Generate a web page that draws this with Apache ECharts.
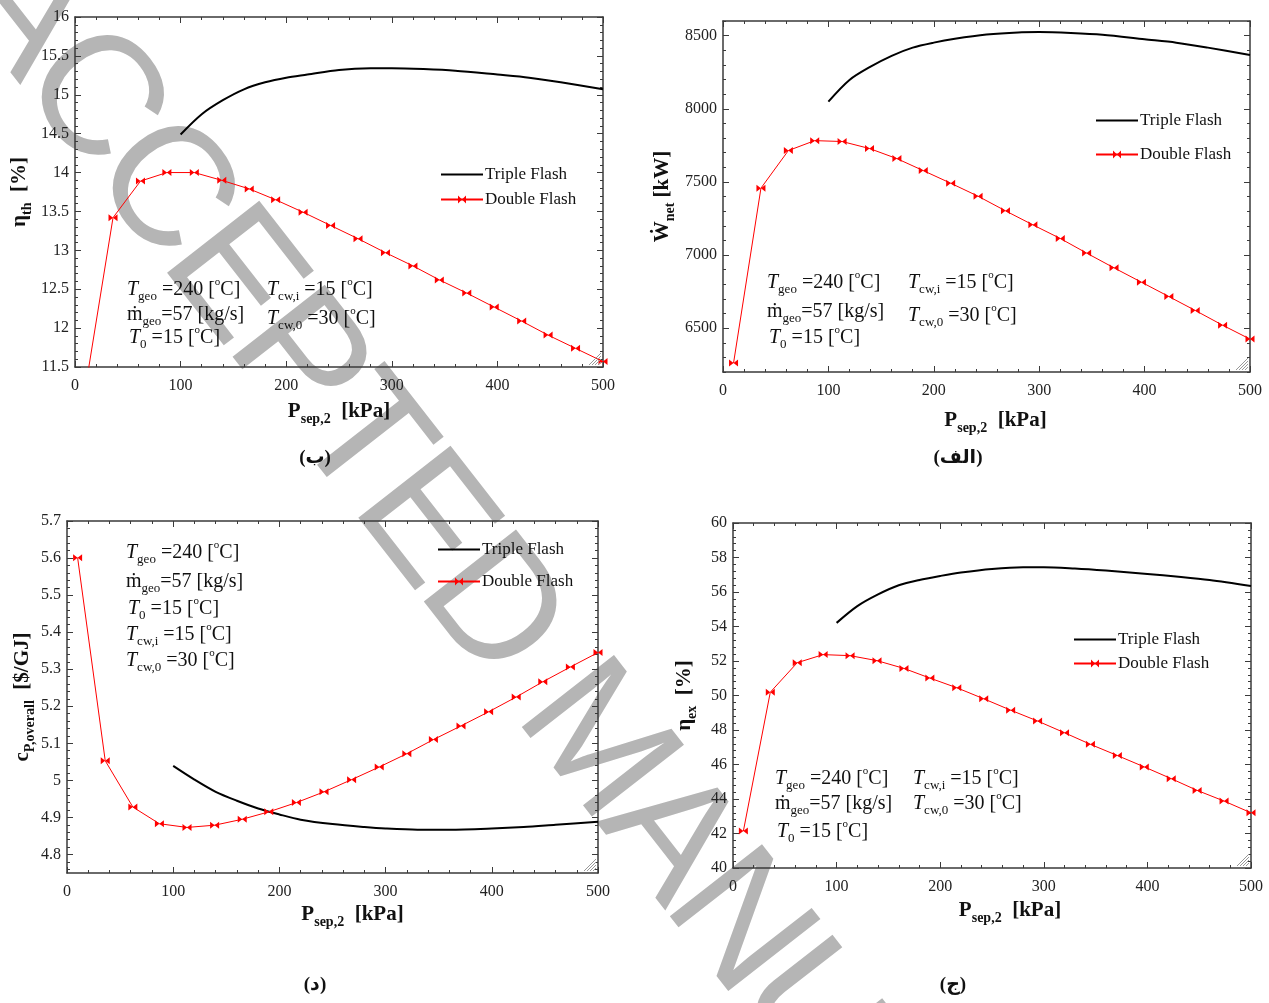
<!DOCTYPE html>
<html><head><meta charset="utf-8">
<script src="https://cdn.jsdelivr.net/npm/echarts@6/dist/echarts.min.js"></script>
<style>html,body{margin:0;padding:0;background:#fff}#c{width:1269px;height:1003px}</style>
</head><body><div id="c"></div>
<script>
// ---------- data ----------
const xTicks = [0, 100, 200, 300, 400, 500];
const yTicksEtaTh = [11.5, 12, 12.5, 13, 13.5, 14, 14.5, 15, 15.5, 16];
const yTicksWnet = [6500, 7000, 7500, 8000, 8500];
const yTicksCost = [4.8, 4.9, 5, 5.1, 5.2, 5.3, 5.4, 5.5, 5.6, 5.7];
const yTicksEtaEx = [40, 42, 44, 46, 48, 50, 52, 54, 56, 58, 60];

const pDouble = [10, 36, 62, 87, 113, 139, 165, 190, 216, 242, 268, 294, 320, 345, 371, 397, 423, 448, 474, 500];
const pTriple = [100, 120, 140, 160, 180, 200, 220, 250, 280, 300, 330, 360, 400, 430, 460, 500];

const etaThDouble = [11.24, 13.42, 13.89, 14.00, 14.00, 13.90, 13.79, 13.65, 13.49, 13.32, 13.15, 12.97, 12.80, 12.62, 12.45, 12.27, 12.09, 11.91, 11.74, 11.57];
const etaThTriple = [14.49, 14.75, 14.93, 15.07, 15.16, 15.22, 15.26, 15.32, 15.34, 15.34, 15.33, 15.31, 15.26, 15.22, 15.16, 15.07];

const wNetDouble = [6261, 7457, 7714, 7782, 7776, 7728, 7659, 7577, 7491, 7402, 7302, 7206, 7113, 7013, 6912, 6814, 6716, 6621, 6520, 6425];
const wNetTriple = [8049, 8197, 8288, 8362, 8418, 8452, 8478, 8507, 8522, 8524, 8518, 8506, 8475, 8452, 8418, 8368];

const costDouble = [5.601, 5.053, 4.928, 4.883, 4.873, 4.879, 4.895, 4.915, 4.940, 4.969, 5.002, 5.036, 5.072, 5.110, 5.147, 5.185, 5.225, 5.266, 5.306, 5.345];
const costTriple = [5.039, 5.002, 4.969, 4.945, 4.924, 4.908, 4.894, 4.882, 4.874, 4.870, 4.867, 4.867, 4.870, 4.874, 4.880, 4.888];

const etaExDouble = [42.14, 50.19, 51.90, 52.37, 52.31, 52.02, 51.57, 51.01, 50.45, 49.81, 49.15, 48.52, 47.84, 47.17, 46.52, 45.86, 45.18, 44.50, 43.88, 43.2];
const etaExTriple = [54.21, 55.18, 55.86, 56.39, 56.70, 56.93, 57.13, 57.34, 57.44, 57.44, 57.36, 57.24, 57.05, 56.89, 56.70, 56.35];

const seriesNames = ['Triple Flash', 'Double Flash'];
const captions = ['(ب)', '(الف)', '(د)', '(ج)'];

// ---------- styling / layout ----------
const SERIF = "'Liberation Serif','Times New Roman','DejaVu Serif',serif";
const FRAME = { color: '#3a3a3a', width: 1.5 };
const BOWTIE = 'path://M0,0L5,3L0,6ZM10,0L5,3L10,6Z';

function minorTicks(min, max, step) {
  const out = [];
  const start = Math.ceil(min / step - 1e-9);
  for (let k = start; k * step <= max + 1e-9; k++) out.push(Math.round(k * step * 1e6) / 1e6);
  return out;
}

const NAME_RICH = {
  b: { fontFamily: SERIF, fontWeight: 'bold', fontSize: 21, lineHeight: 28, verticalAlign: 'middle', color: '#111' },
  bs: { fontFamily: SERIF, fontWeight: 'bold', fontSize: 14, lineHeight: 15, verticalAlign: 'bottom', color: '#111' }
};

const panels = [
  { grid: { left: 75, top: 17, width: 528, height: 350 }, yMin: 11.5, yMax: 16, yMajor: yTicksEtaTh, yStep: 0.1,
    yName: '{b|η}{bs|th}{b|  [%]}', yGap: 41, xGap: 31, xPad: [0, 0, 0, 0],
    dbl: etaThDouble, tri: etaThTriple, leg: { left: 440, top: 166, gap: 8 } },
  { grid: { left: 723, top: 21, width: 527, height: 351 }, yMin: 6200, yMax: 8600, yMajor: yTicksWnet, yStep: 100,
    yName: '{b|Ẇ}{bs|net}{b| [kW]}', yGap: 46, xGap: 35, xPad: [0, 0, 0, 18],
    dbl: wNetDouble, tri: wNetTriple, leg: { left: 1095, top: 112, gap: 17 } },
  { grid: { left: 67, top: 521, width: 531, height: 352 }, yMin: 4.75, yMax: 5.7, yMajor: yTicksCost, yStep: 0.02,
    yName: '{b|c}{bs|P,overall}{b|  [$/GJ]}', yGap: 30, xGap: 28, xPad: [0, 0, 0, 40],
    dbl: costDouble, tri: costTriple, leg: { left: 437, top: 541, gap: 15 } },
  { grid: { left: 733, top: 523, width: 518, height: 345 }, yMin: 40, yMax: 60, yMajor: yTicksEtaEx, yStep: 0.4,
    yName: '{b|η}{bs|ex}{b|  [%]}', yGap: 34, xGap: 29, xPad: [0, 0, 0, 36],
    dbl: etaExDouble, tri: etaExTriple, leg: { left: 1073, top: 631, gap: 7 } }
];

function axisSet(kind, gi, min, max, major, minor, nameCfg) {
  const sides = kind === 'x' ? ['bottom', 'top'] : ['left', 'right'];
  const out = [];
  sides.forEach((pos, si) => {
    const base = { type: 'value', gridIndex: gi, position: pos, min: min, max: max,
      splitLine: { show: false }, splitArea: { show: false }, silent: true };
    const majorAx = Object.assign({}, base, {
      axisLine: { show: true, onZero: false, lineStyle: FRAME },
      axisTick: { show: true, inside: true, length: 6, customValues: major, lineStyle: { color: '#3a3a3a', width: 1 } },
      axisLabel: si === 0 ? {
        show: true, customValues: major, formatter: v => String(v),
        fontFamily: SERIF, fontSize: 16, color: '#222', margin: kind === 'x' ? 11 : 6
      } : { show: false }
    });
    if (si === 0 && nameCfg) Object.assign(majorAx, nameCfg);
    out.push(majorAx);
    out.push(Object.assign({}, base, {
      axisLine: { show: false, onZero: false },
      axisTick: { show: true, inside: true, length: 3, customValues: minor, lineStyle: { color: '#3a3a3a', width: 1 } },
      axisLabel: { show: false }
    }));
  });
  return out;
}

const grids = [], xAxes = [], yAxes = [], series = [], legends = [];
const pair = (xs, ys) => xs.map((x, i) => [x, ys[i]]);

panels.forEach((p, gi) => {
  grids.push(Object.assign({ containLabel: false }, p.grid));
  xAxes.push(...axisSet('x', gi, 0, 500, xTicks, minorTicks(0, 500, 20), {
    name: '{b|P}{bs|sep,2}{b|  [kPa]}', nameLocation: 'middle', nameGap: p.xGap,
    nameTextStyle: { fontFamily: SERIF, fontWeight: 'bold', fontSize: 21, color: '#111', rich: NAME_RICH, padding: p.xPad }
  }));
  yAxes.push(...axisSet('y', gi, p.yMin, p.yMax, p.yMajor, minorTicks(p.yMin, p.yMax, p.yStep), {
    name: p.yName, nameLocation: 'middle', nameGap: p.yGap,
    nameTextStyle: { fontFamily: SERIF, fontWeight: 'bold', fontSize: 21, color: '#111', rich: NAME_RICH }
  }));
  series.push({
    name: seriesNames[0], type: 'line', xAxisIndex: gi * 4, yAxisIndex: gi * 4,
    data: pair(pTriple, p.tri), symbol: 'none', smooth: 0.3, clip: true,
    lineStyle: { color: '#000', width: 2 }, itemStyle: { color: 'rgba(0,0,0,0)' }, z: 3
  });
  series.push({
    name: seriesNames[1], type: 'line', xAxisIndex: gi * 4, yAxisIndex: gi * 4,
    data: pair(pDouble, p.dbl), symbol: BOWTIE, symbolSize: [9, 7], showSymbol: true, clip: true,
    lineStyle: { color: '#ff0000', width: 1 }, itemStyle: { color: '#ff0000' }, z: 4
  });
  legends.push({
    orient: 'vertical', left: p.leg.left, top: p.leg.top, itemGap: p.leg.gap, padding: 0,
    itemWidth: 42, itemHeight: 10, selectedMode: false,
    data: [{ name: seriesNames[0], itemStyle: { opacity: 0 } }, { name: seriesNames[1] }],
    textStyle: { fontFamily: SERIF, fontSize: 17, color: '#111', padding: [0, 0, 0, -3] }
  });
});

// ---------- text annotations ----------
const ANN_RICH = {
  it: { fontFamily: SERIF, fontStyle: 'italic', fontSize: 20, lineHeight: 26, verticalAlign: 'middle', color: '#111' },
  n: { fontFamily: SERIF, fontSize: 20, lineHeight: 26, verticalAlign: 'middle', color: '#111' },
  sub: { fontFamily: SERIF, fontSize: 13, lineHeight: 14, verticalAlign: 'bottom', color: '#111' },
  sup: { fontFamily: SERIF, fontSize: 11, lineHeight: 12, verticalAlign: 'top', color: '#111' }
};
const TXT = {
  tgeo: '{it|T}{sub|geo}{n| =240 [}{sup|o}{n|C]}',
  mgeo: '{n|ṁ}{sub|geo}{n|=57 [kg/s]}',
  t0: '{it|T}{sub|0}{n| =15 [}{sup|o}{n|C]}',
  tcwi: '{it|T}{sub|cw,i}{n| =15 [}{sup|o}{n|C]}',
  tcw0: '{it|T}{sub|cw,0}{n| =30 [}{sup|o}{n|C]}'
};
const annotations = [
  [127, 290, 'tgeo'], [127, 315, 'mgeo'], [129, 338, 't0'], [267, 290, 'tcwi'], [267, 319, 'tcw0'],
  [767, 283, 'tgeo'], [767, 312, 'mgeo'], [769, 338, 't0'], [908, 283, 'tcwi'], [908, 316, 'tcw0'],
  [126, 553, 'tgeo'], [126, 582, 'mgeo'], [128, 609, 't0'], [126, 635, 'tcwi'], [126, 661, 'tcw0'],
  [775, 779, 'tgeo'], [775, 804, 'mgeo'], [777, 832, 't0'], [913, 779, 'tcwi'], [913, 804, 'tcw0']
];
const captionPos = [[315, 458], [958, 458], [315, 985], [953, 985]];

const elements = [];
// watermark (behind everything)
const WM = 'ACCEPTED MANUSCRIPT';
const wmSize = 170, wmAng = 52 * Math.PI / 180, wmColor = '#b5b5b5', wmSpace = 0.94;
const wmFont = wmSize + "px 'Liberation Sans', Arial, sans-serif";
const mctx = document.createElement('canvas').getContext('2d');
mctx.font = wmFont;
let cum = 0; const centers = [];
for (const ch of WM) { const w = mctx.measureText(ch).width * wmSpace; centers.push(cum + w / 2); cum += w; }
const anchorIdx = 7, ax = 490, ay = 610;
WM.split('').forEach((ch, i) => {
  if (ch === ' ') return;
  const s = centers[i] - centers[anchorIdx];
  elements.push({
    type: 'text', x: ax + s * Math.cos(wmAng), y: ay + s * Math.sin(wmAng), rotation: -wmAng, z: -10, silent: true,
    style: { text: ch, font: wmFont, fill: wmColor, align: 'center', verticalAlign: 'middle' }
  });
});
// small hatch marks at the lower-right corner of each plot frame
panels.forEach(p => {
  const r = p.grid.left + p.grid.width - 2, b = p.grid.top + p.grid.height - 2;
  for (let k = 1; k <= 4; k++) {
    elements.push({ type: 'line', silent: true, z: 5,
      shape: { x1: r - k * 3, y1: b, x2: r, y2: b - k * 3 }, style: { stroke: '#999', lineWidth: 1 } });
  }
});
annotations.forEach(a => {
  elements.push({ type: 'text', x: a[0], y: a[1], z: 10, silent: true,
    style: { text: TXT[a[2]], rich: ANN_RICH, font: '20px ' + SERIF, fill: '#111', align: 'left', verticalAlign: 'middle' } });
});
captions.forEach((c, i) => {
  elements.push({ type: 'text', x: captionPos[i][0], y: captionPos[i][1], z: 10, silent: true,
    style: { text: c, font: "bold 19px 'Liberation Serif','DejaVu Sans',serif", fill: '#111', align: 'center', verticalAlign: 'middle' } });
});

const chart = echarts.init(document.getElementById('c'), null, { renderer: 'canvas' });
chart.setOption({
  backgroundColor: '#ffffff',
  animation: false,
  grid: grids, xAxis: xAxes, yAxis: yAxes, series: series, legend: legends,
  graphic: { elements: elements }
});
</script></body></html>
